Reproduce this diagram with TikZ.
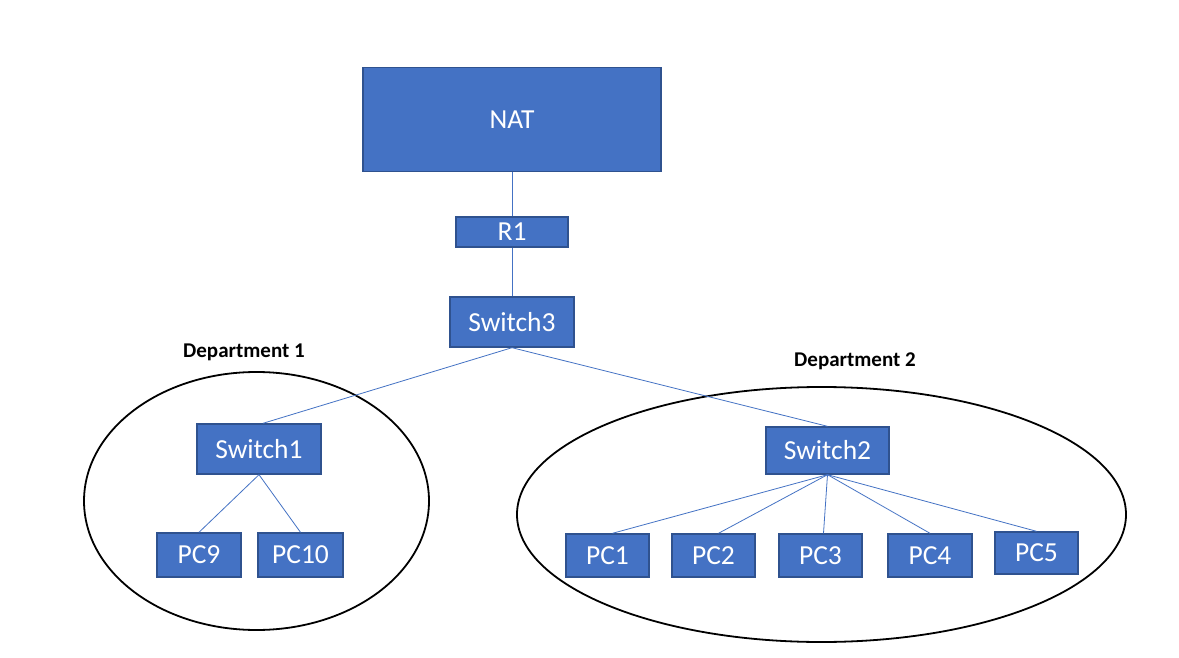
\documentclass[tikz,border=0pt]{standalone}
\usepackage{fontspec}
\setmainfont{Carlito}
\definecolor{boxfill}{HTML}{4472C4}
\definecolor{boxedge}{HTML}{2F528F}
\definecolor{wire}{HTML}{4472C4}
\begin{document}
\begin{tikzpicture}[x=1pt,y=-1pt,
  dev/.style={draw=boxedge,line width=1.4pt,fill=boxfill,text=white,inner sep=0pt,
    font=\fontsize{27.5}{30}\selectfont},
  link/.style={draw=wire,line width=0.8pt},
  dept/.style={draw=black,line width=1.8pt},
  deptlabel/.style={font=\fontsize{21}{24}\selectfont\bfseries,inner sep=0pt}]
\useasboundingbox[fill=white] (0,0) rectangle (1179,658);

% department groupings
\draw[dept] (256.5,501) ellipse [x radius=172.5pt, y radius=129pt];
\draw[dept] (821.5,514.5) ellipse [x radius=304.5pt, y radius=127.5pt];
\node[deptlabel] (d1) at (244,352) {Department 1};
\node[deptlabel] (d2) at (855,361) {Department 2};

% devices
\node[dev,minimum width=298pt,minimum height=104pt] (nat) at (512,119.5) {NAT};
\node[dev,minimum width=112pt,minimum height=30pt] (r1) at (512,232) {R1};
\node[dev,minimum width=124pt,minimum height=50pt] (sw3) at (512,322) {Switch3};
\node[dev,minimum width=124pt,minimum height=50pt] (sw1) at (259,449) {Switch1};
\node[dev,minimum width=123pt,minimum height=47pt] (sw2) at (827.5,450.5) {Switch2};

\node[dev,minimum width=84pt,minimum height=44pt] (pc9) at (199,555) {PC9};
\node[dev,minimum width=85pt,minimum height=44pt] (pc10) at (300.5,555) {PC10};

\node[dev,minimum width=83pt,minimum height=43pt] (pc1) at (607.5,555.5) {PC1};
\node[dev,minimum width=83pt,minimum height=43pt] (pc2) at (713.5,555.5) {PC2};
\node[dev,minimum width=83pt,minimum height=43pt] (pc3) at (820.5,555.5) {PC3};
\node[dev,minimum width=84pt,minimum height=43pt] (pc4) at (930,555.5) {PC4};
\node[dev,minimum width=83pt,minimum height=42pt] (pc5) at (1036.5,553) {PC5};

% links
\draw[link] (nat.south) -- (r1.north);
\draw[link] (r1.south) -- (sw3.north);
\draw[link] (sw3.south) -- ([xshift=4pt]sw1.north);
\draw[link] (sw3.south) -- (sw2.north);
\draw[link] (sw1.south) -- (pc9.north);
\draw[link] (sw1.south) -- (pc10.north);
\draw[link] (sw2.south) -- ([xshift=5pt]pc1.north);
\draw[link] (sw2.south) -- ([xshift=5pt]pc2.north);
\draw[link] (sw2.south) -- ([xshift=3pt]pc3.north);
\draw[link] (sw2.south) -- (pc4.north);
\draw[link] (sw2.south) -- (pc5.north);
\end{tikzpicture}
\end{document}
